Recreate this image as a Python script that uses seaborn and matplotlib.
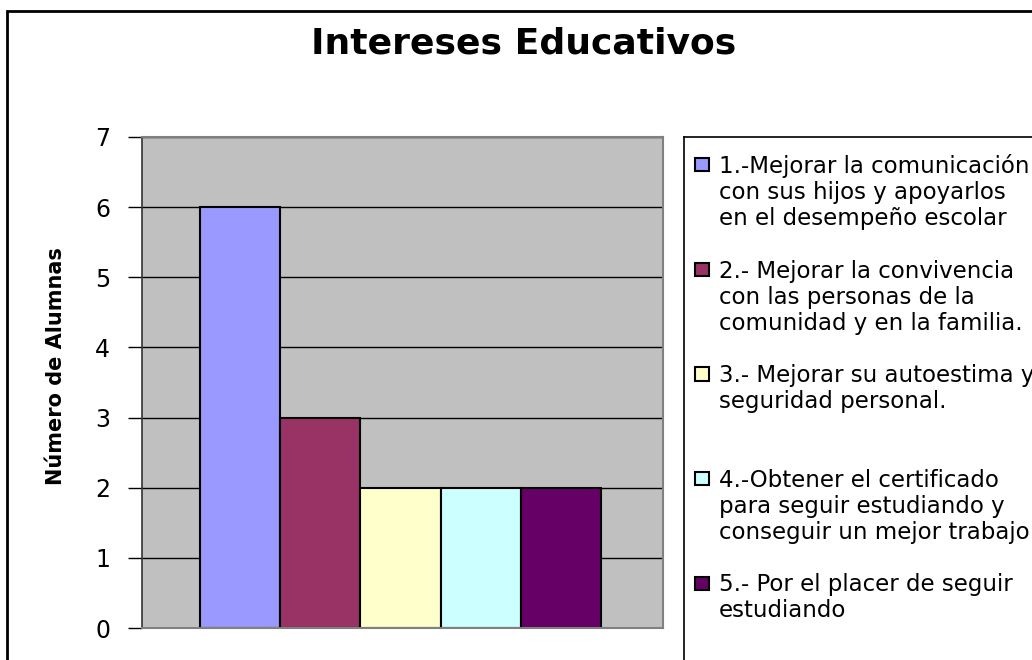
import matplotlib
matplotlib.use("Agg")
import matplotlib.pyplot as plt
from matplotlib.patches import Patch, Rectangle
import seaborn as sns
import pandas as pd

# chart data
title = "Intereses Educativos"
y_label = "Número de Alumnas"
intereses = [
    "1.-Mejorar la comunicación\ncon sus hijos y apoyarlos\nen el desempeño escolar",
    "2.- Mejorar la convivencia\ncon las personas de la\ncomunidad y en la familia.",
    "3.- Mejorar su autoestima y\nseguridad personal.",
    "4.-Obtener el certificado\npara seguir estudiando y\nconseguir un mejor trabajo",
    "5.- Por el placer de seguir\nestudiando",
]
alumnas = [6, 3, 2, 2, 2]
bar_colors = ["#9999FF", "#993366", "#FFFFCC", "#CCFFFF", "#660066"]
y_ticks = [0, 1, 2, 3, 4, 5, 6, 7]

W, H = 1032, 660

sns.set_theme(style="white")
plt.rcParams["font.family"] = ["DejaVu Sans"]
plt.rcParams["text.color"] = "black"
plt.rcParams["axes.labelcolor"] = "black"
plt.rcParams["ytick.color"] = "black"

df = pd.DataFrame({"interes": intereses, "alumnas": alumnas})

fig = plt.figure(figsize=(W / 100, H / 100), dpi=100)
fig.patch.set_facecolor("white")

# plot area (Excel-like gray background)
ax = fig.add_axes([142 / W, (H - 628) / H, 521 / W, 491 / H])
ax.set_facecolor("#C0C0C0")
sns.barplot(data=df, x="interes", y="alumnas", hue="interes",
            palette=dict(zip(intereses, bar_colors)), saturation=1,
            width=1, edgecolor="black", linewidth=1.5, legend=False, ax=ax)

ax.set_xlim(-1.223, 5.273)
ax.set_ylim(0, 7)
ax.set_yticks(y_ticks)
ax.set_xticks([])
ax.set_xlabel("")
ax.set_ylabel(y_label, fontsize=15, fontweight="bold", color="black")
ax.yaxis.set_label_coords((66 - 142) / 521, (628 - 366) / 491)
ax.yaxis.grid(True, color="black", linewidth=1)
ax.set_axisbelow(True)
ax.tick_params(axis="y", left=True, direction="out", length=10, width=1,
               color="black", labelcolor="black", labelsize=17, pad=13)
for side in ["top", "right", "bottom"]:
    ax.spines[side].set_color("#808080")
    ax.spines[side].set_linewidth(1.5)
ax.spines["left"].set_color("#333333")
ax.spines["left"].set_linewidth(1.2)

# legend box (clipped by the figure edge like the reference)
lax = fig.add_axes([684 / W, -0.5, 0.5, (1 - 137 / H) + 0.5])
lax.set_xticks([])
lax.set_yticks([])
lax.set_facecolor("white")
for s in lax.spines.values():
    s.set_color("black")
    s.set_linewidth(1.2)

# one legend row per text line, four rows per entry so entries are evenly spaced
row_handles, row_texts = [], []
for bar, lab in zip(ax.patches, intereses):
    lines = lab.split("\n")
    for i in range(4):
        if i == 0:
            row_handles.append(Patch(facecolor=bar.get_facecolor(),
                                     edgecolor="black", linewidth=1.5))
        else:
            row_handles.append(Patch(facecolor="none", edgecolor="none"))
        row_texts.append(lines[i] if i < len(lines) else "")

fig.legend(row_handles, row_texts, loc="upper left",
           bbox_to_anchor=(695 / W, 1 - 154 / H), frameon=False, fontsize=16.5,
           labelcolor="black", handlelength=0.61, handleheight=0.5,
           handletextpad=0.44, labelspacing=0.137, borderpad=0, borderaxespad=0)

fig.text(0.507, 1 - 43 / H, title, ha="center", va="center",
         fontsize=26, fontweight="bold", color="black")

# outer chart border
fig.add_artist(Rectangle((7 / W, -0.5), 2, (1 - 11 / H) + 0.5,
                         transform=fig.transFigure, fill=False,
                         edgecolor="black", linewidth=2))

fig.savefig("out.png", dpi=100)
